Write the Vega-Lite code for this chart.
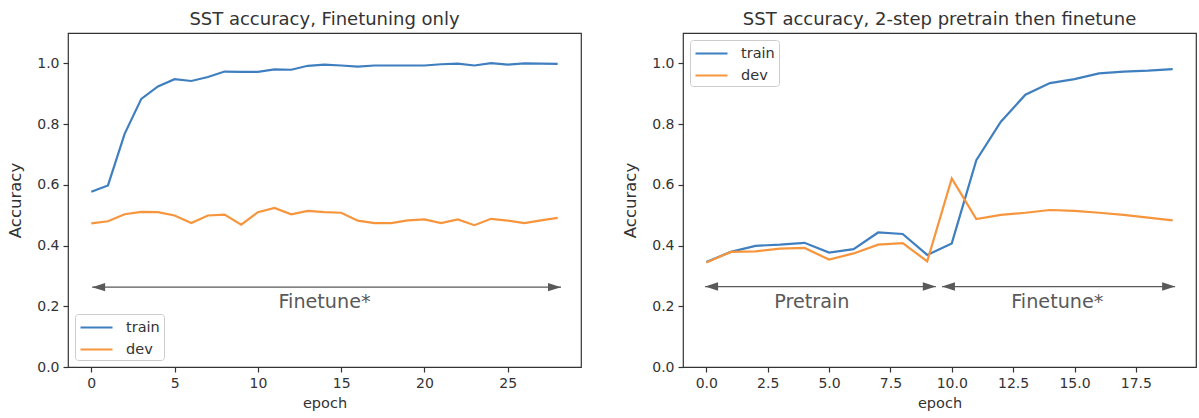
{
  "$schema": "https://vega.github.io/schema/vega-lite/v6.json",
  "background": "white",
  "autosize": "pad",
  "padding": {"left": 7, "top": 10, "right": 0, "bottom": 0},
  "bounds": "flush",
  "spacing": 102,
  "config": {
    "font": "DejaVu Sans",
    "view": {"stroke": "#333", "strokeWidth": 1.2},
    "axis": {"domain": false, "grid": false, "tickColor": "#333", "tickSize": 5, "tickWidth": 1.2, "labelColor": "#333", "labelFontSize": 14, "labelFont": "DejaVu Sans", "titleFont": "DejaVu Sans", "titleFontSize": 14.5, "titleFontWeight": "normal", "titleColor": "#333", "labelPadding": 4, "titlePadding": 6},
    "axisY": {"titleFontSize": 16.5, "titlePadding": 13},
    "title": {"fontSize": 18, "fontWeight": "normal", "color": "#333", "font": "DejaVu Sans", "offset": 4},
    "legend": {"symbolType": "M-1,0L3,0", "symbolSize": 256, "symbolStrokeWidth": 2.2, "labelFontSize": 14.5, "labelFont": "DejaVu Sans", "labelColor": "#333", "labelOffset": 28, "padding": 4, "strokeColor": "#cccccc", "fillColor": "white", "cornerRadius": 3, "rowPadding": 6, "offset": 7}
  },
  "datasets": {
    "ft": [
      {"epoch": 0, "series": "train", "accuracy": 0.577}, {"epoch": 1, "series": "train", "accuracy": 0.598},
      {"epoch": 2, "series": "train", "accuracy": 0.768}, {"epoch": 3, "series": "train", "accuracy": 0.883},
      {"epoch": 4, "series": "train", "accuracy": 0.924}, {"epoch": 5, "series": "train", "accuracy": 0.948},
      {"epoch": 6, "series": "train", "accuracy": 0.942}, {"epoch": 7, "series": "train", "accuracy": 0.955},
      {"epoch": 8, "series": "train", "accuracy": 0.973}, {"epoch": 9, "series": "train", "accuracy": 0.972},
      {"epoch": 10, "series": "train", "accuracy": 0.972}, {"epoch": 11, "series": "train", "accuracy": 0.98},
      {"epoch": 12, "series": "train", "accuracy": 0.979}, {"epoch": 13, "series": "train", "accuracy": 0.992},
      {"epoch": 14, "series": "train", "accuracy": 0.996}, {"epoch": 15, "series": "train", "accuracy": 0.993},
      {"epoch": 16, "series": "train", "accuracy": 0.989}, {"epoch": 17, "series": "train", "accuracy": 0.993},
      {"epoch": 18, "series": "train", "accuracy": 0.993}, {"epoch": 19, "series": "train", "accuracy": 0.993},
      {"epoch": 20, "series": "train", "accuracy": 0.993}, {"epoch": 21, "series": "train", "accuracy": 0.997},
      {"epoch": 22, "series": "train", "accuracy": 0.999}, {"epoch": 23, "series": "train", "accuracy": 0.993},
      {"epoch": 24, "series": "train", "accuracy": 1.001}, {"epoch": 25, "series": "train", "accuracy": 0.996},
      {"epoch": 26, "series": "train", "accuracy": 1.0}, {"epoch": 27, "series": "train", "accuracy": 0.999},
      {"epoch": 28, "series": "train", "accuracy": 0.998},
      {"epoch": 0, "series": "dev", "accuracy": 0.473}, {"epoch": 1, "series": "dev", "accuracy": 0.48},
      {"epoch": 2, "series": "dev", "accuracy": 0.503}, {"epoch": 3, "series": "dev", "accuracy": 0.511},
      {"epoch": 4, "series": "dev", "accuracy": 0.51}, {"epoch": 5, "series": "dev", "accuracy": 0.499},
      {"epoch": 6, "series": "dev", "accuracy": 0.474}, {"epoch": 7, "series": "dev", "accuracy": 0.499},
      {"epoch": 8, "series": "dev", "accuracy": 0.502}, {"epoch": 9, "series": "dev", "accuracy": 0.469},
      {"epoch": 10, "series": "dev", "accuracy": 0.51}, {"epoch": 11, "series": "dev", "accuracy": 0.524},
      {"epoch": 12, "series": "dev", "accuracy": 0.503}, {"epoch": 13, "series": "dev", "accuracy": 0.514},
      {"epoch": 14, "series": "dev", "accuracy": 0.51}, {"epoch": 15, "series": "dev", "accuracy": 0.508},
      {"epoch": 16, "series": "dev", "accuracy": 0.482}, {"epoch": 17, "series": "dev", "accuracy": 0.474},
      {"epoch": 18, "series": "dev", "accuracy": 0.474}, {"epoch": 19, "series": "dev", "accuracy": 0.483},
      {"epoch": 20, "series": "dev", "accuracy": 0.486}, {"epoch": 21, "series": "dev", "accuracy": 0.474},
      {"epoch": 22, "series": "dev", "accuracy": 0.486}, {"epoch": 23, "series": "dev", "accuracy": 0.467},
      {"epoch": 24, "series": "dev", "accuracy": 0.488}, {"epoch": 25, "series": "dev", "accuracy": 0.482},
      {"epoch": 26, "series": "dev", "accuracy": 0.474}, {"epoch": 27, "series": "dev", "accuracy": 0.483},
      {"epoch": 28, "series": "dev", "accuracy": 0.491}
    ],
    "pt": [
      {"epoch": 0, "series": "train", "accuracy": 0.346}, {"epoch": 1, "series": "train", "accuracy": 0.379},
      {"epoch": 2, "series": "train", "accuracy": 0.399}, {"epoch": 3, "series": "train", "accuracy": 0.403},
      {"epoch": 4, "series": "train", "accuracy": 0.409}, {"epoch": 5, "series": "train", "accuracy": 0.377},
      {"epoch": 6, "series": "train", "accuracy": 0.388}, {"epoch": 7, "series": "train", "accuracy": 0.443},
      {"epoch": 8, "series": "train", "accuracy": 0.438}, {"epoch": 9, "series": "train", "accuracy": 0.369},
      {"epoch": 10, "series": "train", "accuracy": 0.407}, {"epoch": 11, "series": "train", "accuracy": 0.681},
      {"epoch": 12, "series": "train", "accuracy": 0.808}, {"epoch": 13, "series": "train", "accuracy": 0.897},
      {"epoch": 14, "series": "train", "accuracy": 0.935}, {"epoch": 15, "series": "train", "accuracy": 0.948},
      {"epoch": 16, "series": "train", "accuracy": 0.967}, {"epoch": 17, "series": "train", "accuracy": 0.973},
      {"epoch": 18, "series": "train", "accuracy": 0.976}, {"epoch": 19, "series": "train", "accuracy": 0.981},
      {"epoch": 0, "series": "dev", "accuracy": 0.344}, {"epoch": 1, "series": "dev", "accuracy": 0.379},
      {"epoch": 2, "series": "dev", "accuracy": 0.381}, {"epoch": 3, "series": "dev", "accuracy": 0.39},
      {"epoch": 4, "series": "dev", "accuracy": 0.392}, {"epoch": 5, "series": "dev", "accuracy": 0.354},
      {"epoch": 6, "series": "dev", "accuracy": 0.374}, {"epoch": 7, "series": "dev", "accuracy": 0.403},
      {"epoch": 8, "series": "dev", "accuracy": 0.408}, {"epoch": 9, "series": "dev", "accuracy": 0.348},
      {"epoch": 10, "series": "dev", "accuracy": 0.621}, {"epoch": 11, "series": "dev", "accuracy": 0.487},
      {"epoch": 12, "series": "dev", "accuracy": 0.501}, {"epoch": 13, "series": "dev", "accuracy": 0.508},
      {"epoch": 14, "series": "dev", "accuracy": 0.517}, {"epoch": 15, "series": "dev", "accuracy": 0.514},
      {"epoch": 16, "series": "dev", "accuracy": 0.508}, {"epoch": 17, "series": "dev", "accuracy": 0.501},
      {"epoch": 18, "series": "dev", "accuracy": 0.492}, {"epoch": 19, "series": "dev", "accuracy": 0.483}
    ],
    "ftArrows": [{"start": 0.05, "end": 28.2, "level": 0.263, "label": "Finetune*", "mid": 14.0, "textLevel": 0.193}],
    "ptArrows": [
      {"start": -0.05, "end": 9.35, "level": 0.265, "label": "Pretrain", "mid": 4.3, "textLevel": 0.193},
      {"start": 9.6, "end": 19.1, "level": 0.265, "label": "Finetune*", "mid": 14.3, "textLevel": 0.193}
    ]
  },
  "resolve": {"scale": {"color": "independent"}, "legend": {"color": "independent"}},
  "hconcat": [
    {
      "width": 513,
      "height": 334,
      "title": "SST accuracy, Finetuning only",
      "layer": [
        {
          "data": {"name": "ftArrows"},
          "mark": {"type": "rule", "color": "#595959", "strokeWidth": 1.3},
          "encoding": {
            "x": {"field": "start", "type": "quantitative", "title": "epoch", "scale": {"domain": [-1.4, 29.4], "nice": false, "zero": false}, "axis": {"values": [0, 5, 10, 15, 20, 25], "format": "d"}},
            "x2": {"field": "end"},
            "y": {"field": "level", "type": "quantitative", "title": "Accuracy", "scale": {"domain": [0, 1.1], "nice": false, "zero": false}, "axis": {"values": [0, 0.2, 0.4, 0.6, 0.8, 1.0], "format": ".1f"}}
          }
        },
        {
          "data": {"name": "ftArrows"},
          "mark": {"type": "point", "shape": "M0,0L2,-0.65L2,0.65Z", "filled": true, "color": "#595959", "opacity": 1, "size": 169},
          "encoding": {
            "x": {"field": "start", "type": "quantitative", "title": "epoch"},
            "y": {"field": "level", "type": "quantitative", "title": "Accuracy"}
          }
        },
        {
          "data": {"name": "ftArrows"},
          "mark": {"type": "point", "shape": "M0,0L-2,-0.65L-2,0.65Z", "filled": true, "color": "#595959", "opacity": 1, "size": 169},
          "encoding": {
            "x": {"field": "end", "type": "quantitative", "title": "epoch"},
            "y": {"field": "level", "type": "quantitative", "title": "Accuracy"}
          }
        },
        {
          "data": {"name": "ftArrows"},
          "mark": {"type": "text", "fontSize": 19.2, "color": "#595959", "align": "center", "baseline": "alphabetic", "font": "DejaVu Sans"},
          "encoding": {
            "x": {"field": "mid", "type": "quantitative", "title": "epoch"},
            "y": {"field": "textLevel", "type": "quantitative", "title": "Accuracy"},
            "text": {"field": "label"}
          }
        },
        {
          "data": {"name": "ft"},
          "mark": {"type": "line", "strokeWidth": 2.2},
          "encoding": {
            "x": {"field": "epoch", "type": "quantitative", "title": "epoch"},
            "y": {"field": "accuracy", "type": "quantitative", "title": "Accuracy"},
            "color": {"field": "series", "type": "nominal", "scale": {"domain": ["train", "dev"], "range": ["#3f7fbf", "#f7953d"]}, "legend": {"title": null, "orient": "bottom-left"}}
          }
        }
      ]
    },
    {
      "width": 513,
      "height": 334,
      "title": "SST accuracy, 2-step pretrain then finetune",
      "layer": [
        {
          "data": {"name": "ptArrows"},
          "mark": {"type": "rule", "color": "#595959", "strokeWidth": 1.3},
          "encoding": {
            "x": {"field": "start", "type": "quantitative", "title": "epoch", "scale": {"domain": [-0.95, 19.95], "nice": false, "zero": false}, "axis": {"values": [0, 2.5, 5, 7.5, 10, 12.5, 15, 17.5], "format": ".1f"}},
            "x2": {"field": "end"},
            "y": {"field": "level", "type": "quantitative", "title": "Accuracy", "scale": {"domain": [0, 1.1], "nice": false, "zero": false}, "axis": {"values": [0, 0.2, 0.4, 0.6, 0.8, 1.0], "format": ".1f"}}
          }
        },
        {
          "data": {"name": "ptArrows"},
          "mark": {"type": "point", "shape": "M0,0L2,-0.65L2,0.65Z", "filled": true, "color": "#595959", "opacity": 1, "size": 169},
          "encoding": {
            "x": {"field": "start", "type": "quantitative", "title": "epoch"},
            "y": {"field": "level", "type": "quantitative", "title": "Accuracy"}
          }
        },
        {
          "data": {"name": "ptArrows"},
          "mark": {"type": "point", "shape": "M0,0L-2,-0.65L-2,0.65Z", "filled": true, "color": "#595959", "opacity": 1, "size": 169},
          "encoding": {
            "x": {"field": "end", "type": "quantitative", "title": "epoch"},
            "y": {"field": "level", "type": "quantitative", "title": "Accuracy"}
          }
        },
        {
          "data": {"name": "ptArrows"},
          "mark": {"type": "text", "fontSize": 19.2, "color": "#595959", "align": "center", "baseline": "alphabetic", "font": "DejaVu Sans"},
          "encoding": {
            "x": {"field": "mid", "type": "quantitative", "title": "epoch"},
            "y": {"field": "textLevel", "type": "quantitative", "title": "Accuracy"},
            "text": {"field": "label"}
          }
        },
        {
          "data": {"name": "pt"},
          "mark": {"type": "line", "strokeWidth": 2.2},
          "encoding": {
            "x": {"field": "epoch", "type": "quantitative", "title": "epoch"},
            "y": {"field": "accuracy", "type": "quantitative", "title": "Accuracy"},
            "color": {"field": "series", "type": "nominal", "scale": {"domain": ["train", "dev"], "range": ["#3f7fbf", "#f7953d"]}, "legend": {"title": null, "orient": "top-left"}}
          }
        }
      ]
    }
  ]
}
